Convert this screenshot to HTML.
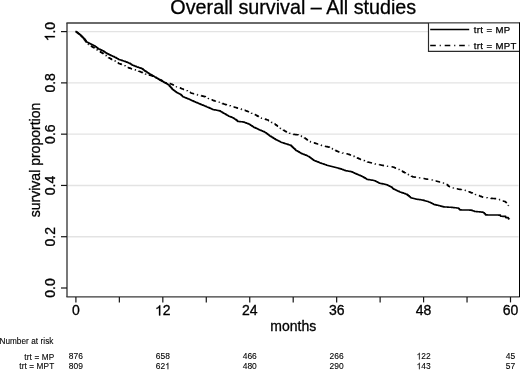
<!DOCTYPE html>
<html><head><meta charset="utf-8"><style>
html,body{margin:0;padding:0;background:#fff;overflow:hidden;}
svg{display:block;will-change:transform;font-family:"Liberation Sans",sans-serif;}
</style></head><body>
<svg width="520" height="370" viewBox="0 0 520 370">
<rect width="520" height="370" fill="#fff"/>
<line x1="68" y1="236.72" x2="518.5" y2="236.72" stroke="#e3e3e3" stroke-width="1.4"/>
<line x1="68" y1="185.44" x2="518.5" y2="185.44" stroke="#e3e3e3" stroke-width="1.4"/>
<line x1="68" y1="134.16" x2="518.5" y2="134.16" stroke="#e3e3e3" stroke-width="1.4"/>
<line x1="68" y1="82.88" x2="518.5" y2="82.88" stroke="#e3e3e3" stroke-width="1.4"/>
<line x1="68" y1="31.60" x2="518.5" y2="31.60" stroke="#e3e3e3" stroke-width="1.4"/>
<polyline points="75.40,31.50 76.40,31.50 76.40,32.23 77.40,32.23 77.40,32.96 78.40,32.96 78.40,33.70 79.40,33.70 79.40,34.43 79.50,34.43 79.50,34.50 80.40,34.50 80.40,35.40 81.40,35.40 81.40,36.40 82.40,36.40 82.40,37.40 83.40,37.40 83.40,38.40 83.50,38.40 83.50,38.50 84.40,38.50 84.40,39.63 85.40,39.63 85.40,40.89 86.20,40.89 86.20,41.90 86.40,41.90 86.40,42.19 87.40,42.19 87.40,43.61 87.60,43.61 87.60,43.90 88.40,43.90 88.40,44.44 89.40,44.44 89.40,45.12 90.40,45.12 90.40,45.79 91.40,45.79 91.40,46.47 91.60,46.47 91.60,46.60 92.40,46.60 92.40,47.10 93.40,47.10 93.40,47.73 94.40,47.73 94.40,48.36 95.40,48.36 95.40,48.99 96.40,48.99 96.40,49.62 97.00,49.62 97.00,50.00 97.40,50.00 97.40,50.25 98.40,50.25 98.40,50.88 99.40,50.88 99.40,51.51 100.40,51.51 100.40,52.14 101.40,52.14 101.40,52.77 102.40,52.77 102.40,53.40 103.40,53.40 103.40,54.14 104.40,54.14 104.40,54.88 105.40,54.88 105.40,55.62 106.40,55.62 106.40,56.36 107.40,56.36 107.40,57.10 107.80,57.10 107.80,57.40 108.40,57.40 108.40,57.73 109.40,57.73 109.40,58.29 110.40,58.29 110.40,58.84 111.40,58.84 111.40,59.40 112.40,59.40 112.40,59.96 113.20,59.96 113.20,60.40 113.40,60.40 113.40,60.51 114.40,60.51 114.40,61.09 115.40,61.09 115.40,61.66 116.40,61.66 116.40,62.24 117.40,62.24 117.40,62.81 118.40,62.81 118.40,63.39 118.60,63.39 118.60,63.50 119.40,63.50 119.40,63.80 120.40,63.80 120.40,64.17 121.40,64.17 121.40,64.54 122.40,64.54 122.40,64.91 123.40,64.91 123.40,65.28 124.00,65.28 124.00,65.50 124.40,65.50 124.40,65.78 125.40,65.78 125.40,66.49 126.40,66.49 126.40,67.20 127.40,67.20 127.40,67.53 128.40,67.53 128.40,67.85 129.40,67.85 129.40,68.17 130.40,68.17 130.40,68.50 131.40,68.50 131.40,68.83 132.40,68.83 132.40,69.17 133.40,69.17 133.40,69.50 134.40,69.50 134.40,69.83 135.40,69.83 135.40,70.17 136.40,70.17 136.40,70.50 137.40,70.50 137.40,70.83 138.40,70.83 138.40,71.17 138.50,71.17 138.50,71.20 139.40,71.20 139.40,71.56 140.40,71.56 140.40,71.95 141.40,71.95 141.40,72.35 142.40,72.35 142.40,72.75 143.40,72.75 143.40,73.15 144.40,73.15 144.40,73.54 145.30,73.54 145.30,73.90 145.40,73.90 145.40,73.93 146.40,73.93 146.40,74.24 147.40,74.24 147.40,74.56 148.40,74.56 148.40,74.87 149.40,74.87 149.40,75.19 150.40,75.19 150.40,75.50 151.40,75.50 151.40,75.81 152.00,75.81 152.00,76.00 152.40,76.00 152.40,76.20 153.40,76.20 153.40,76.69 154.40,76.69 154.40,77.19 155.40,77.19 155.40,77.68 156.40,77.68 156.40,78.17 157.40,78.17 157.40,78.67 158.40,78.67 158.40,79.16 159.40,79.16 159.40,79.65 160.10,79.65 160.10,80.00 160.40,80.00 160.40,80.15 161.40,80.15 161.40,80.65 162.40,80.65 162.40,81.15 163.40,81.15 163.40,81.65 164.40,81.65 164.40,82.15 165.40,82.15 165.40,82.65 165.50,82.65 165.50,82.70 166.40,82.70 166.40,82.91 167.40,82.91 167.40,83.15 168.40,83.15 168.40,83.39 169.40,83.39 169.40,83.62 170.40,83.62 170.40,83.86 171.00,83.86 171.00,84.00 171.40,84.00 171.40,84.21 172.40,84.21 172.40,84.73 173.40,84.73 173.40,85.24 174.40,85.24 174.40,85.76 175.40,85.76 175.40,86.28 176.40,86.28 176.40,86.80 177.40,86.80 177.40,87.17 178.40,87.17 178.40,87.54 179.40,87.54 179.40,87.91 180.40,87.91 180.40,88.28 181.40,88.28 181.40,88.65 181.80,88.65 181.80,88.80 182.40,88.80 182.40,89.05 183.40,89.05 183.40,89.47 184.40,89.47 184.40,89.88 185.40,89.88 185.40,90.30 186.40,90.30 186.40,90.80 187.40,90.80 187.40,91.30 188.40,91.30 188.40,91.80 189.40,91.80 189.40,92.30 190.40,92.30 190.40,92.80 190.80,92.80 190.80,93.00 191.40,93.00 191.40,93.18 192.40,93.18 192.40,93.47 193.40,93.47 193.40,93.76 194.40,93.76 194.40,94.06 195.40,94.06 195.40,94.35 196.40,94.35 196.40,94.65 197.40,94.65 197.40,94.94 197.60,94.94 197.60,95.00 198.40,95.00 198.40,95.19 199.40,95.19 199.40,95.43 200.40,95.43 200.40,95.67 201.40,95.67 201.40,95.91 202.40,95.91 202.40,96.15 203.40,96.15 203.40,96.39 204.30,96.39 204.30,96.60 204.40,96.60 204.40,96.65 205.40,96.65 205.40,97.10 206.40,97.10 206.40,97.56 207.40,97.56 207.40,98.02 208.40,98.02 208.40,98.47 209.40,98.47 209.40,98.93 210.40,98.93 210.40,99.39 211.40,99.39 211.40,99.84 212.40,99.84 212.40,100.30 213.40,100.30 213.40,100.63 214.40,100.63 214.40,100.97 215.40,100.97 215.40,101.30 216.40,101.30 216.40,101.63 217.40,101.63 217.40,101.97 218.40,101.97 218.40,102.30 219.40,102.30 219.40,102.63 220.40,102.63 220.40,102.97 220.50,102.97 220.50,103.00 221.40,103.00 221.40,103.30 222.40,103.30 222.40,103.63 223.40,103.63 223.40,103.97 224.40,103.97 224.40,104.30 225.40,104.30 225.40,104.63 226.40,104.63 226.40,104.97 227.40,104.97 227.40,105.30 228.40,105.30 228.40,105.63 228.60,105.63 228.60,105.70 229.40,105.70 229.40,105.91 230.40,105.91 230.40,106.18 231.40,106.18 231.40,106.44 232.40,106.44 232.40,106.71 233.40,106.71 233.40,106.98 234.40,106.98 234.40,107.24 235.00,107.24 235.00,107.40 235.40,107.40 235.40,107.52 236.40,107.52 236.40,107.83 237.40,107.83 237.40,108.14 238.40,108.14 238.40,108.45 239.40,108.45 239.40,108.76 240.40,108.76 240.40,109.07 241.40,109.07 241.40,109.38 242.40,109.38 242.40,109.68 243.10,109.68 243.10,109.90 243.40,109.90 243.40,110.01 244.40,110.01 244.40,110.38 245.40,110.38 245.40,110.75 246.40,110.75 246.40,111.12 247.40,111.12 247.40,111.49 248.40,111.49 248.40,111.86 248.50,111.86 248.50,111.90 249.40,111.90 249.40,112.31 250.40,112.31 250.40,112.77 251.40,112.77 251.40,113.22 252.40,113.22 252.40,113.68 253.40,113.68 253.40,114.13 254.40,114.13 254.40,114.59 255.30,114.59 255.30,115.00 255.40,115.00 255.40,115.06 256.40,115.06 256.40,115.61 257.40,115.61 257.40,116.17 258.40,116.17 258.40,116.72 259.40,116.72 259.40,117.28 260.40,117.28 260.40,117.83 260.70,117.83 260.70,118.00 261.40,118.00 261.40,118.21 262.40,118.21 262.40,118.51 263.40,118.51 263.40,118.81 264.40,118.81 264.40,119.10 265.40,119.10 265.40,119.40 266.40,119.40 266.40,119.70 267.40,119.70 267.40,120.00 268.40,120.00 268.40,120.59 269.40,120.59 269.40,121.18 270.40,121.18 270.40,121.76 271.40,121.76 271.40,122.35 272.40,122.35 272.40,122.94 273.40,122.94 273.40,123.53 274.20,123.53 274.20,124.00 274.40,124.00 274.40,124.14 275.40,124.14 275.40,124.85 276.40,124.85 276.40,125.55 277.40,125.55 277.40,126.26 278.40,126.26 278.40,126.96 279.40,126.96 279.40,127.67 280.40,127.67 280.40,128.38 281.00,128.38 281.00,128.80 281.40,128.80 281.40,129.05 282.40,129.05 282.40,129.68 283.40,129.68 283.40,130.31 284.40,130.31 284.40,130.94 285.40,130.94 285.40,131.57 286.40,131.57 286.40,132.20 287.40,132.20 287.40,132.57 288.40,132.57 288.40,132.94 289.40,132.94 289.40,133.31 290.40,133.31 290.40,133.68 291.40,133.68 291.40,134.05 291.80,134.05 291.80,134.20 292.40,134.20 292.40,134.26 293.40,134.26 293.40,134.37 294.40,134.37 294.40,134.47 295.40,134.47 295.40,134.58 296.40,134.58 296.40,134.68 297.40,134.68 297.40,134.79 298.40,134.79 298.40,134.89 298.50,134.89 298.50,134.90 299.40,134.90 299.40,135.35 300.40,135.35 300.40,135.85 301.40,135.85 301.40,136.35 302.40,136.35 302.40,136.85 303.40,136.85 303.40,137.35 303.90,137.35 303.90,137.60 304.40,137.60 304.40,137.97 305.40,137.97 305.40,138.71 306.40,138.71 306.40,139.45 307.40,139.45 307.40,140.19 308.40,140.19 308.40,140.93 309.30,140.93 309.30,141.60 309.40,141.60 309.40,141.63 310.40,141.63 310.40,141.92 311.40,141.92 311.40,142.22 312.40,142.22 312.40,142.51 313.40,142.51 313.40,142.81 314.40,142.81 314.40,143.10 315.40,143.10 315.40,143.39 316.10,143.39 316.10,143.60 316.40,143.60 316.40,143.70 317.40,143.70 317.40,144.05 318.40,144.05 318.40,144.39 319.40,144.39 319.40,144.73 320.40,144.73 320.40,145.08 321.40,145.08 321.40,145.42 322.40,145.42 322.40,145.76 322.80,145.76 322.80,145.90 323.40,145.90 323.40,146.02 324.40,146.02 324.40,146.23 325.40,146.23 325.40,146.43 326.40,146.43 326.40,146.63 327.40,146.63 327.40,146.84 328.20,146.84 328.20,147.00 328.40,147.00 328.40,147.10 329.40,147.10 329.40,147.60 330.40,147.60 330.40,148.10 331.40,148.10 331.40,148.60 332.40,148.60 332.40,149.10 333.40,149.10 333.40,149.60 334.40,149.60 334.40,150.10 335.00,150.10 335.00,150.40 335.40,150.40 335.40,150.60 336.40,150.60 336.40,151.08 337.40,151.08 337.40,151.57 338.40,151.57 338.40,152.06 339.10,152.06 339.10,152.40 339.40,152.40 339.40,152.45 340.40,152.45 340.40,152.63 341.40,152.63 341.40,152.80 342.40,152.80 342.40,152.98 343.10,152.98 343.10,153.10 343.40,153.10 343.40,153.17 344.40,153.17 344.40,153.39 345.40,153.39 345.40,153.61 346.40,153.61 346.40,153.83 347.40,153.83 347.40,154.05 348.10,154.05 348.10,154.20 348.40,154.20 348.40,154.33 349.40,154.33 349.40,154.75 350.40,154.75 350.40,155.17 351.40,155.17 351.40,155.59 352.40,155.59 352.40,156.00 353.40,156.00 353.40,156.42 354.40,156.42 354.40,156.84 355.40,156.84 355.40,157.26 356.20,157.26 356.20,157.60 356.40,157.60 356.40,157.69 357.40,157.69 357.40,158.13 358.40,158.13 358.40,158.58 359.40,158.58 359.40,159.02 360.40,159.02 360.40,159.47 361.40,159.47 361.40,159.91 361.60,159.91 361.60,160.00 362.40,160.00 362.40,160.27 363.40,160.27 363.40,160.61 364.40,160.61 364.40,160.95 365.40,160.95 365.40,161.29 366.40,161.29 366.40,161.62 367.40,161.62 367.40,161.96 368.40,161.96 368.40,162.30 369.40,162.30 369.40,162.55 370.40,162.55 370.40,162.81 371.40,162.81 371.40,163.06 372.40,163.06 372.40,163.31 373.40,163.31 373.40,163.57 374.40,163.57 374.40,163.82 375.10,163.82 375.10,164.00 375.40,164.00 375.40,164.06 376.40,164.06 376.40,164.24 377.40,164.24 377.40,164.43 378.40,164.43 378.40,164.61 379.40,164.61 379.40,164.80 380.40,164.80 380.40,164.98 380.50,164.98 380.50,165.00 381.40,165.00 381.40,165.18 382.40,165.18 382.40,165.38 383.40,165.38 383.40,165.58 384.40,165.58 384.40,165.78 385.40,165.78 385.40,165.98 386.00,165.98 386.00,166.10 386.40,166.10 386.40,166.15 387.40,166.15 387.40,166.29 388.40,166.29 388.40,166.42 389.40,166.42 389.40,166.56 390.40,166.56 390.40,166.69 391.40,166.69 391.40,166.83 392.40,166.83 392.40,166.96 392.70,166.96 392.70,167.00 393.40,167.00 393.40,167.30 394.40,167.30 394.40,167.72 395.40,167.72 395.40,168.15 396.40,168.15 396.40,168.58 397.40,168.58 397.40,169.00 398.10,169.00 398.10,169.30 398.40,169.30 398.40,169.46 399.40,169.46 399.40,170.00 400.40,170.00 400.40,170.54 401.40,170.54 401.40,171.08 402.40,171.08 402.40,171.62 403.40,171.62 403.40,172.15 404.40,172.15 404.40,172.69 404.60,172.69 404.60,172.80 405.40,172.80 405.40,173.20 406.40,173.20 406.40,173.71 407.40,173.71 407.40,174.22 408.40,174.22 408.40,174.72 409.40,174.72 409.40,175.23 410.40,175.23 410.40,175.74 411.40,175.74 411.40,176.24 412.40,176.24 412.40,176.75 412.70,176.75 412.70,176.90 413.40,176.90 413.40,176.99 414.40,176.99 414.40,177.11 415.40,177.11 415.40,177.23 416.40,177.23 416.40,177.36 417.40,177.36 417.40,177.48 418.40,177.48 418.40,177.60 419.20,177.60 419.20,177.70 419.40,177.70 419.40,177.74 420.40,177.74 420.40,177.94 421.40,177.94 421.40,178.14 422.40,178.14 422.40,178.34 423.40,178.34 423.40,178.54 424.40,178.54 424.40,178.74 425.40,178.74 425.40,178.94 425.70,178.94 425.70,179.00 426.40,179.00 426.40,179.12 427.40,179.12 427.40,179.29 428.40,179.29 428.40,179.46 429.40,179.46 429.40,179.63 430.40,179.63 430.40,179.80 431.40,179.80 431.40,179.96 432.20,179.96 432.20,180.10 432.40,180.10 432.40,180.15 433.40,180.15 433.40,180.42 434.40,180.42 434.40,180.68 435.40,180.68 435.40,180.95 436.40,180.95 436.40,181.22 437.40,181.22 437.40,181.48 438.40,181.48 438.40,181.75 438.60,181.75 438.60,181.80 439.40,181.80 439.40,182.00 440.40,182.00 440.40,182.24 441.40,182.24 441.40,182.49 442.40,182.49 442.40,182.74 443.40,182.74 443.40,182.98 444.40,182.98 444.40,183.23 445.10,183.23 445.10,183.40 445.40,183.40 445.40,183.66 446.40,183.66 446.40,184.54 447.40,184.54 447.40,185.42 448.40,185.42 448.40,186.30 449.40,186.30 449.40,186.74 450.40,186.74 450.40,187.18 451.40,187.18 451.40,187.62 451.80,187.62 451.80,187.80 452.40,187.80 452.40,187.93 453.40,187.93 453.40,188.13 454.40,188.13 454.40,188.34 455.40,188.34 455.40,188.55 456.40,188.55 456.40,188.76 457.40,188.76 457.40,188.97 458.40,188.97 458.40,189.18 458.50,189.18 458.50,189.20 459.40,189.20 459.40,189.37 460.40,189.37 460.40,189.56 461.40,189.56 461.40,189.75 462.40,189.75 462.40,189.95 463.40,189.95 463.40,190.14 464.40,190.14 464.40,190.33 465.30,190.33 465.30,190.50 465.40,190.50 465.40,190.54 466.40,190.54 466.40,190.93 467.40,190.93 467.40,191.32 468.40,191.32 468.40,191.71 469.40,191.71 469.40,192.09 470.40,192.09 470.40,192.48 470.70,192.48 470.70,192.60 471.40,192.60 471.40,192.88 472.40,192.88 472.40,193.29 473.40,193.29 473.40,193.69 474.40,193.69 474.40,194.09 475.40,194.09 475.40,194.49 476.40,194.49 476.40,194.90 477.40,194.90 477.40,195.30 478.40,195.30 478.40,195.67 479.40,195.67 479.40,196.04 480.40,196.04 480.40,196.41 481.40,196.41 481.40,196.78 482.40,196.78 482.40,197.15 482.80,197.15 482.80,197.30 483.40,197.30 483.40,197.38 484.40,197.38 484.40,197.51 485.40,197.51 485.40,197.65 486.40,197.65 486.40,197.78 487.40,197.78 487.40,197.92 488.40,197.92 488.40,198.05 489.40,198.05 489.40,198.19 490.40,198.19 490.40,198.32 491.00,198.32 491.00,198.40 491.40,198.40 491.40,198.42 492.40,198.42 492.40,198.48 493.40,198.48 493.40,198.53 494.40,198.53 494.40,198.59 495.40,198.59 495.40,198.64 496.40,198.64 496.40,198.70 497.40,198.70 497.40,198.99 498.40,198.99 498.40,199.27 499.20,199.27 499.20,199.50 499.40,199.50 499.40,199.60 500.40,199.60 500.40,200.10 501.40,200.10 501.40,200.60 502.00,200.60 502.00,200.90 502.40,200.90 502.40,201.00 503.40,201.00 503.40,201.24 504.40,201.24 504.40,201.48 504.50,201.48 504.50,201.50 505.40,201.50 505.40,202.10 506.00,202.10 506.00,202.50 506.40,202.50 506.40,202.90 507.00,202.90 507.00,203.50 507.40,203.50 507.40,204.30 507.50,204.30 507.50,204.50 508.40,204.50 508.40,205.49 508.50,205.49 508.50,205.60" fill="none" stroke="#000" stroke-width="1.6" stroke-dasharray="5.6 3.965 1.0 3.965" stroke-dashoffset="13.449" stroke-linejoin="round"/>
<polyline points="75.40,31.50 76.40,31.50 76.40,32.23 77.40,32.23 77.40,32.96 78.40,32.96 78.40,33.70 79.40,33.70 79.40,34.43 79.50,34.43 79.50,34.50 80.40,34.50 80.40,35.40 81.40,35.40 81.40,36.40 82.40,36.40 82.40,37.40 83.40,37.40 83.40,38.40 83.50,38.40 83.50,38.50 84.40,38.50 84.40,39.63 85.40,39.63 85.40,40.89 86.20,40.89 86.20,41.90 86.40,41.90 86.40,42.00 87.40,42.00 87.40,42.49 88.40,42.49 88.40,42.97 89.40,42.97 89.40,43.46 90.30,43.46 90.30,43.90 90.40,43.90 90.40,43.95 91.40,43.95 91.40,44.45 92.40,44.45 92.40,44.95 93.40,44.95 93.40,45.45 94.30,45.45 94.30,45.90 94.40,45.90 94.40,45.98 95.40,45.98 95.40,46.73 96.40,46.73 96.40,47.49 97.40,47.49 97.40,48.24 98.40,48.24 98.40,49.00 99.40,49.00 99.40,49.42 100.40,49.42 100.40,49.85 101.40,49.85 101.40,50.28 102.40,50.28 102.40,50.70 103.40,50.70 103.40,51.36 104.40,51.36 104.40,52.02 105.40,52.02 105.40,52.68 106.40,52.68 106.40,53.33 106.50,53.33 106.50,53.40 107.40,53.40 107.40,53.85 108.40,53.85 108.40,54.35 109.40,54.35 109.40,54.85 110.40,54.85 110.40,55.35 110.50,55.35 110.50,55.40 111.40,55.40 111.40,55.80 112.40,55.80 112.40,56.23 113.40,56.23 113.40,56.67 114.40,56.67 114.40,57.11 114.60,57.11 114.60,57.20 115.40,57.20 115.40,57.66 116.40,57.66 116.40,58.24 117.40,58.24 117.40,58.81 118.40,58.81 118.40,59.39 118.60,59.39 118.60,59.50 119.40,59.50 119.40,59.75 120.40,59.75 120.40,60.07 121.40,60.07 121.40,60.38 122.40,60.38 122.40,60.70 123.40,60.70 123.40,61.01 124.00,61.01 124.00,61.20 124.40,61.20 124.40,61.36 125.40,61.36 125.40,61.77 126.40,61.77 126.40,62.17 127.40,62.17 127.40,62.57 128.40,62.57 128.40,62.98 129.20,62.98 129.20,63.30 129.40,63.30 129.40,63.42 130.40,63.42 130.40,64.04 131.40,64.04 131.40,64.67 132.10,64.67 132.10,65.10 132.40,65.10 132.40,65.22 133.40,65.22 133.40,65.61 134.40,65.61 134.40,66.01 135.40,66.01 135.40,66.41 136.40,66.41 136.40,66.80 136.90,66.80 136.90,67.00 137.40,67.00 137.40,67.17 138.40,67.17 138.40,67.50 139.40,67.50 139.40,67.83 140.40,67.83 140.40,68.17 141.40,68.17 141.40,68.50 141.70,68.50 141.70,68.60 142.40,68.60 142.40,69.16 143.40,69.16 143.40,69.95 144.40,69.95 144.40,70.74 144.60,70.74 144.60,70.90 145.40,70.90 145.40,71.41 146.40,71.41 146.40,72.05 147.40,72.05 147.40,72.69 148.40,72.69 148.40,73.33 149.30,73.33 149.30,73.90 149.40,73.90 149.40,73.96 150.40,73.96 150.40,74.53 151.40,74.53 151.40,75.11 152.40,75.11 152.40,75.68 153.40,75.68 153.40,76.25 154.40,76.25 154.40,76.83 154.70,76.83 154.70,77.00 155.40,77.00 155.40,77.41 156.40,77.41 156.40,78.01 157.40,78.01 157.40,78.60 158.40,78.60 158.40,79.19 159.40,79.19 159.40,79.79 160.10,79.79 160.10,80.20 160.40,80.20 160.40,80.37 161.40,80.37 161.40,80.95 162.40,80.95 162.40,81.52 163.40,81.52 163.40,82.09 164.40,82.09 164.40,82.67 165.40,82.67 165.40,83.24 165.50,83.24 165.50,83.30 166.40,83.30 166.40,83.80 167.40,83.80 167.40,84.36 168.20,84.36 168.20,84.80 168.40,84.80 168.40,85.02 169.40,85.02 169.40,86.15 170.40,86.15 170.40,87.27 171.40,87.27 171.40,88.39 172.30,88.39 172.30,89.40 172.40,89.40 172.40,89.48 173.40,89.48 173.40,90.23 174.40,90.23 174.40,90.99 175.40,90.99 175.40,91.74 176.40,91.74 176.40,92.50 177.40,92.50 177.40,93.03 178.40,93.03 178.40,93.55 179.40,93.55 179.40,94.07 180.40,94.07 180.40,94.60 181.40,94.60 181.40,95.56 182.40,95.56 182.40,96.51 182.70,96.51 182.70,96.80 183.40,96.80 183.40,97.07 184.40,97.07 184.40,97.46 185.40,97.46 185.40,97.85 186.40,97.85 186.40,98.24 187.40,98.24 187.40,98.63 188.10,98.63 188.10,98.90 188.40,98.90 188.40,99.04 189.40,99.04 189.40,99.50 190.40,99.50 190.40,99.96 191.40,99.96 191.40,100.43 192.40,100.43 192.40,100.89 193.40,100.89 193.40,101.35 193.50,101.35 193.50,101.40 194.40,101.40 194.40,101.78 195.40,101.78 195.40,102.21 196.40,102.21 196.40,102.64 197.40,102.64 197.40,103.06 198.40,103.06 198.40,103.49 199.40,103.49 199.40,103.92 200.30,103.92 200.30,104.30 200.40,104.30 200.40,104.34 201.40,104.34 201.40,104.74 202.40,104.74 202.40,105.15 203.40,105.15 203.40,105.55 204.40,105.55 204.40,105.95 205.40,105.95 205.40,106.36 206.40,106.36 206.40,106.76 207.00,106.76 207.00,107.00 207.40,107.00 207.40,107.19 208.40,107.19 208.40,107.65 209.40,107.65 209.40,108.11 210.40,108.11 210.40,108.57 211.40,108.57 211.40,109.04 212.40,109.04 212.40,109.50 213.40,109.50 213.40,109.69 214.40,109.69 214.40,109.88 215.40,109.88 215.40,110.07 216.40,110.07 216.40,110.26 217.40,110.26 217.40,110.46 218.40,110.46 218.40,110.65 219.20,110.65 219.20,110.80 219.40,110.80 219.40,110.92 220.40,110.92 220.40,111.49 221.40,111.49 221.40,112.07 222.40,112.07 222.40,112.64 223.20,112.64 223.20,113.10 223.40,113.10 223.40,113.21 224.40,113.21 224.40,113.79 225.40,113.79 225.40,114.36 226.40,114.36 226.40,114.94 227.40,114.94 227.40,115.51 228.40,115.51 228.40,116.09 228.60,116.09 228.60,116.20 229.40,116.20 229.40,116.51 230.40,116.51 230.40,116.90 231.40,116.90 231.40,117.29 232.40,117.29 232.40,117.68 232.70,117.68 232.70,117.80 233.40,117.80 233.40,118.26 234.40,118.26 234.40,118.91 235.00,118.91 235.00,119.30 235.40,119.30 235.40,119.61 236.40,119.61 236.40,120.39 237.40,120.39 237.40,121.17 237.70,121.17 237.70,121.40 238.40,121.40 238.40,121.48 239.40,121.48 239.40,121.59 240.40,121.59 240.40,121.70 241.40,121.70 241.40,121.81 242.40,121.81 242.40,121.92 243.10,121.92 243.10,122.00 243.40,122.00 243.40,122.11 244.40,122.11 244.40,122.48 245.40,122.48 245.40,122.85 246.40,122.85 246.40,123.22 247.40,123.22 247.40,123.59 248.40,123.59 248.40,123.96 248.50,123.96 248.50,124.00 249.40,124.00 249.40,124.57 250.40,124.57 250.40,125.20 251.40,125.20 251.40,125.83 252.40,125.83 252.40,126.46 253.40,126.46 253.40,127.09 253.90,127.09 253.90,127.40 254.40,127.40 254.40,127.63 255.40,127.63 255.40,128.09 256.40,128.09 256.40,128.56 257.40,128.56 257.40,129.02 258.40,129.02 258.40,129.48 259.30,129.48 259.30,129.90 259.40,129.90 259.40,129.94 260.40,129.94 260.40,130.37 261.40,130.37 261.40,130.79 262.40,130.79 262.40,131.22 263.40,131.22 263.40,131.65 264.40,131.65 264.40,132.07 264.70,132.07 264.70,132.20 265.40,132.20 265.40,132.72 266.40,132.72 266.40,133.46 267.40,133.46 267.40,134.20 268.40,134.20 268.40,134.94 269.40,134.94 269.40,135.68 270.10,135.68 270.10,136.20 270.40,136.20 270.40,136.39 271.40,136.39 271.40,137.02 272.40,137.02 272.40,137.65 273.40,137.65 273.40,138.28 274.40,138.28 274.40,138.91 275.40,138.91 275.40,139.54 275.50,139.54 275.50,139.60 276.40,139.60 276.40,140.04 277.40,140.04 277.40,140.53 278.40,140.53 278.40,141.02 279.40,141.02 279.40,141.51 280.40,141.51 280.40,142.01 281.00,142.01 281.00,142.30 281.40,142.30 281.40,142.43 282.40,142.43 282.40,142.75 283.40,142.75 283.40,143.08 284.40,143.08 284.40,143.41 285.00,143.41 285.00,143.60 285.40,143.60 285.40,143.73 286.40,143.73 286.40,144.07 287.40,144.07 287.40,144.40 288.40,144.40 288.40,144.73 289.40,144.73 289.40,145.07 290.40,145.07 290.40,145.40 291.40,145.40 291.40,146.33 292.40,146.33 292.40,147.25 293.40,147.25 293.40,148.18 294.40,148.18 294.40,149.10 295.40,149.10 295.40,150.03 295.80,150.03 295.80,150.40 296.40,150.40 296.40,150.74 297.40,150.74 297.40,151.32 298.40,151.32 298.40,151.89 299.40,151.89 299.40,152.47 300.40,152.47 300.40,153.04 301.20,153.04 301.20,153.50 301.40,153.50 301.40,153.58 302.40,153.58 302.40,153.98 303.40,153.98 303.40,154.37 304.40,154.37 304.40,154.77 305.40,154.77 305.40,155.17 306.40,155.17 306.40,155.56 307.40,155.56 307.40,155.96 308.00,155.96 308.00,156.20 308.40,156.20 308.40,156.50 309.40,156.50 309.40,157.26 310.40,157.26 310.40,158.02 311.40,158.02 311.40,158.78 312.40,158.78 312.40,159.54 313.40,159.54 313.40,160.30 314.40,160.30 314.40,160.70 315.40,160.70 315.40,161.11 316.40,161.11 316.40,161.51 317.40,161.51 317.40,161.91 318.40,161.91 318.40,162.31 319.40,162.31 319.40,162.72 320.10,162.72 320.10,163.00 320.40,163.00 320.40,163.10 321.40,163.10 321.40,163.44 322.40,163.44 322.40,163.78 323.40,163.78 323.40,164.12 324.40,164.12 324.40,164.45 325.40,164.45 325.40,164.79 326.40,164.79 326.40,165.13 326.90,165.13 326.90,165.30 327.40,165.30 327.40,165.43 328.40,165.43 328.40,165.68 329.40,165.68 329.40,165.93 330.40,165.93 330.40,166.19 331.40,166.19 331.40,166.44 332.40,166.44 332.40,166.70 333.40,166.70 333.40,166.95 333.60,166.95 333.60,167.00 334.40,167.00 334.40,167.22 335.40,167.22 335.40,167.50 336.40,167.50 336.40,167.78 337.40,167.78 337.40,168.06 338.40,168.06 338.40,168.34 339.40,168.34 339.40,168.62 340.40,168.62 340.40,168.90 341.40,168.90 341.40,169.26 342.40,169.26 342.40,169.62 343.40,169.62 343.40,169.98 344.40,169.98 344.40,170.34 345.40,170.34 345.40,170.70 346.40,170.70 346.40,170.87 347.40,170.87 347.40,171.03 348.40,171.03 348.40,171.20 349.40,171.20 349.40,171.37 350.40,171.37 350.40,171.53 350.80,171.53 350.80,171.60 351.40,171.60 351.40,171.87 352.40,171.87 352.40,172.31 353.40,172.31 353.40,172.76 354.40,172.76 354.40,173.20 355.40,173.20 355.40,173.64 356.20,173.64 356.20,174.00 356.40,174.00 356.40,174.09 357.40,174.09 357.40,174.51 358.40,174.51 358.40,174.94 359.40,174.94 359.40,175.36 360.40,175.36 360.40,175.79 361.40,175.79 361.40,176.21 361.60,176.21 361.60,176.30 362.40,176.30 362.40,176.76 363.40,176.76 363.40,177.33 364.40,177.33 364.40,177.91 365.40,177.91 365.40,178.48 366.40,178.48 366.40,179.06 367.00,179.06 367.00,179.40 367.40,179.40 367.40,179.46 368.40,179.46 368.40,179.63 369.40,179.63 369.40,179.79 370.40,179.79 370.40,179.95 371.40,179.95 371.40,180.11 372.40,180.11 372.40,180.27 373.40,180.27 373.40,180.44 373.80,180.44 373.80,180.50 374.40,180.50 374.40,180.80 375.40,180.80 375.40,181.30 376.40,181.30 376.40,181.80 377.40,181.80 377.40,182.30 378.40,182.30 378.40,182.80 379.20,182.80 379.20,183.20 379.40,183.20 379.40,183.24 380.40,183.24 380.40,183.45 381.40,183.45 381.40,183.65 382.40,183.65 382.40,183.86 383.40,183.86 383.40,184.06 384.40,184.06 384.40,184.27 385.40,184.27 385.40,184.48 386.00,184.48 386.00,184.60 386.40,184.60 386.40,184.80 387.40,184.80 387.40,185.30 388.40,185.30 388.40,185.80 389.40,185.80 389.40,186.30 390.40,186.30 390.40,186.80 391.40,186.80 391.40,187.30 392.40,187.30 392.40,188.24 393.20,188.24 393.20,189.00 393.40,189.00 393.40,189.09 394.40,189.09 394.40,189.55 395.40,189.55 395.40,190.02 396.40,190.02 396.40,190.48 397.40,190.48 397.40,190.94 398.40,190.94 398.40,191.40 399.40,191.40 399.40,191.86 399.70,191.86 399.70,192.00 400.40,192.00 400.40,192.24 401.40,192.24 401.40,192.58 402.40,192.58 402.40,192.91 403.40,192.91 403.40,193.25 404.40,193.25 404.40,193.59 405.40,193.59 405.40,193.93 406.20,193.93 406.20,194.20 406.40,194.20 406.40,194.36 407.40,194.36 407.40,195.13 408.40,195.13 408.40,195.91 409.40,195.91 409.40,196.68 410.40,196.68 410.40,197.46 411.10,197.46 411.10,198.00 411.40,198.00 411.40,198.07 412.40,198.07 412.40,198.30 413.40,198.30 413.40,198.53 414.40,198.53 414.40,198.76 415.40,198.76 415.40,198.99 415.90,198.99 415.90,199.10 416.40,199.10 416.40,199.18 417.40,199.18 417.40,199.33 418.40,199.33 418.40,199.48 419.40,199.48 419.40,199.64 420.40,199.64 420.40,199.79 421.40,199.79 421.40,199.95 422.40,199.95 422.40,200.10 423.40,200.10 423.40,200.39 424.40,200.39 424.40,200.68 425.40,200.68 425.40,200.98 426.40,200.98 426.40,201.27 427.40,201.27 427.40,201.56 428.40,201.56 428.40,201.85 428.90,201.85 428.90,202.00 429.40,202.00 429.40,202.26 430.40,202.26 430.40,202.77 431.40,202.77 431.40,203.28 432.40,203.28 432.40,203.79 433.40,203.79 433.40,204.30 433.80,204.30 433.80,204.50 434.40,204.50 434.40,204.64 435.40,204.64 435.40,204.87 436.40,204.87 436.40,205.10 437.40,205.10 437.40,205.32 438.40,205.32 438.40,205.55 438.60,205.55 438.60,205.60 439.40,205.60 439.40,205.81 440.40,205.81 440.40,206.08 441.40,206.08 441.40,206.34 442.40,206.34 442.40,206.61 443.40,206.61 443.40,206.87 443.50,206.87 443.50,206.90 444.40,206.90 444.40,206.95 445.40,206.95 445.40,207.01 446.40,207.01 446.40,207.07 447.40,207.07 447.40,207.13 448.40,207.13 448.40,207.20 449.40,207.20 449.40,207.26 450.40,207.26 450.40,207.32 451.40,207.32 451.40,207.38 451.80,207.38 451.80,207.40 452.40,207.40 452.40,207.47 453.40,207.47 453.40,207.59 454.40,207.59 454.40,207.70 455.40,207.70 455.40,207.82 456.40,207.82 456.40,207.94 457.40,207.94 457.40,208.05 457.80,208.05 457.80,208.10 458.40,208.10 458.40,208.61 459.40,208.61 459.40,209.47 459.90,209.47 459.90,209.90 460.40,209.90 460.40,209.91 461.40,209.91 461.40,209.93 462.40,209.93 462.40,209.95 463.40,209.95 463.40,209.96 464.40,209.96 464.40,209.98 465.40,209.98 465.40,210.00 466.40,210.00 466.40,210.02 467.40,210.02 467.40,210.04 468.40,210.04 468.40,210.06 469.40,210.06 469.40,210.08 470.40,210.08 470.40,210.09 470.70,210.09 470.70,210.10 471.40,210.10 471.40,210.34 472.40,210.34 472.40,210.69 473.40,210.69 473.40,211.04 474.40,211.04 474.40,211.39 474.70,211.39 474.70,211.50 475.40,211.50 475.40,211.56 476.40,211.56 476.40,211.65 477.40,211.65 477.40,211.73 478.40,211.73 478.40,211.82 479.40,211.82 479.40,211.91 480.40,211.91 480.40,211.99 481.40,211.99 481.40,212.08 482.40,212.08 482.40,212.17 482.80,212.17 482.80,212.20 483.40,212.20 483.40,212.80 484.40,212.80 484.40,213.80 485.40,213.80 485.40,214.80 485.50,214.80 485.50,214.90 486.40,214.90 486.40,214.91 487.40,214.91 487.40,214.93 488.40,214.93 488.40,214.94 489.40,214.94 489.40,214.95 490.40,214.95 490.40,214.97 491.40,214.97 491.40,214.98 492.40,214.98 492.40,214.99 493.40,214.99 493.40,215.01 494.40,215.01 494.40,215.02 495.40,215.02 495.40,215.03 496.40,215.03 496.40,215.05 497.40,215.05 497.40,215.06 498.40,215.06 498.40,215.08 499.40,215.08 499.40,215.09 500.20,215.09 500.20,215.10 500.40,215.10 500.40,215.90 500.50,215.90 500.50,216.30 501.40,216.30 501.40,216.32 502.40,216.32 502.40,216.34 503.40,216.34 503.40,216.36 504.40,216.36 504.40,216.38 505.40,216.38 505.40,216.40 505.70,216.40 505.70,217.60 506.40,217.60 506.40,217.63 507.40,217.63 507.40,217.67 508.20,217.67 508.20,217.70 508.40,217.70 508.40,218.57 508.50,218.57 508.50,219.00 509.40,219.00 509.40,219.10" fill="none" stroke="#000" stroke-width="1.6" stroke-linejoin="round"/>
<line x1="67" y1="23" x2="67" y2="297" stroke="#383838" stroke-width="1.35"/>
<line x1="66.4" y1="23" x2="519.4" y2="23" stroke="#383838" stroke-width="1.35"/>
<line x1="66.4" y1="296.9" x2="519.4" y2="296.9" stroke="#383838" stroke-width="1.35"/>
<rect x="519" y="22.3" width="1" height="274.9" fill="#000"/>
<line x1="61" y1="288.00" x2="67" y2="288.00" stroke="#151515" stroke-width="1.2"/>
<g transform="translate(54.8 288.00) rotate(-90)"><text x="0" y="0" text-anchor="middle" font-size="14" stroke="#000" stroke-width="0.3">0.0</text></g>
<line x1="61" y1="236.72" x2="67" y2="236.72" stroke="#151515" stroke-width="1.2"/>
<g transform="translate(54.8 236.72) rotate(-90)"><text x="0" y="0" text-anchor="middle" font-size="14" stroke="#000" stroke-width="0.3">0.2</text></g>
<line x1="61" y1="185.44" x2="67" y2="185.44" stroke="#151515" stroke-width="1.2"/>
<g transform="translate(54.8 185.44) rotate(-90)"><text x="0" y="0" text-anchor="middle" font-size="14" stroke="#000" stroke-width="0.3">0.4</text></g>
<line x1="61" y1="134.16" x2="67" y2="134.16" stroke="#151515" stroke-width="1.2"/>
<g transform="translate(54.8 134.16) rotate(-90)"><text x="0" y="0" text-anchor="middle" font-size="14" stroke="#000" stroke-width="0.3">0.6</text></g>
<line x1="61" y1="82.88" x2="67" y2="82.88" stroke="#151515" stroke-width="1.2"/>
<g transform="translate(54.8 82.88) rotate(-90)"><text x="0" y="0" text-anchor="middle" font-size="14" stroke="#000" stroke-width="0.3">0.8</text></g>
<line x1="61" y1="31.60" x2="67" y2="31.60" stroke="#151515" stroke-width="1.2"/>
<g transform="translate(54.8 31.60) rotate(-90)"><text x="0" y="0" text-anchor="middle" font-size="14" stroke="#000" stroke-width="0.3"> .0</text><path transform="translate(-9.731 0) scale(0.006836 -0.006836)" d="M763 0H583V1147Q518 1085 412 1023Q307 961 223 930V1104Q374 1175 487 1276Q600 1377 647 1472H763Z" stroke="#000" stroke-width="43.9"/></g>
<line x1="75.90" y1="297" x2="75.90" y2="302.4" stroke="#151515" stroke-width="1.2"/>
<g transform="translate(75.90 315.4)"><text x="0" y="0" text-anchor="middle" font-size="14" stroke="#000" stroke-width="0.3">0</text></g>
<line x1="119.36" y1="297" x2="119.36" y2="302.4" stroke="#151515" stroke-width="1.2"/>
<line x1="162.82" y1="297" x2="162.82" y2="302.4" stroke="#151515" stroke-width="1.2"/>
<g transform="translate(162.82 315.4)"><text x="0" y="0" text-anchor="middle" font-size="14" stroke="#000" stroke-width="0.3"> 2</text><path transform="translate(-7.786 0) scale(0.006836 -0.006836)" d="M763 0H583V1147Q518 1085 412 1023Q307 961 223 930V1104Q374 1175 487 1276Q600 1377 647 1472H763Z" stroke="#000" stroke-width="43.9"/></g>
<line x1="206.28" y1="297" x2="206.28" y2="302.4" stroke="#151515" stroke-width="1.2"/>
<line x1="249.74" y1="297" x2="249.74" y2="302.4" stroke="#151515" stroke-width="1.2"/>
<g transform="translate(249.74 315.4)"><text x="0" y="0" text-anchor="middle" font-size="14" stroke="#000" stroke-width="0.3">24</text></g>
<line x1="293.20" y1="297" x2="293.20" y2="302.4" stroke="#151515" stroke-width="1.2"/>
<line x1="336.66" y1="297" x2="336.66" y2="302.4" stroke="#151515" stroke-width="1.2"/>
<g transform="translate(336.66 315.4)"><text x="0" y="0" text-anchor="middle" font-size="14" stroke="#000" stroke-width="0.3">36</text></g>
<line x1="380.12" y1="297" x2="380.12" y2="302.4" stroke="#151515" stroke-width="1.2"/>
<line x1="423.58" y1="297" x2="423.58" y2="302.4" stroke="#151515" stroke-width="1.2"/>
<g transform="translate(423.58 315.4)"><text x="0" y="0" text-anchor="middle" font-size="14" stroke="#000" stroke-width="0.3">48</text></g>
<line x1="467.04" y1="297" x2="467.04" y2="302.4" stroke="#151515" stroke-width="1.2"/>
<line x1="510.50" y1="297" x2="510.50" y2="302.4" stroke="#151515" stroke-width="1.2"/>
<g transform="translate(510.50 315.4)"><text x="0" y="0" text-anchor="middle" font-size="14" stroke="#000" stroke-width="0.3">60</text></g>
<text x="293.3" y="330.9" text-anchor="middle" font-size="14" stroke="#000" stroke-width="0.3">months</text>
<text transform="translate(40.3 160) rotate(-90)" text-anchor="middle" font-size="14" stroke="#000" stroke-width="0.3">survival proportion</text>
<text transform="translate(293.3 14.4) scale(0.974 1)" text-anchor="middle" font-size="20.3" stroke="#000" stroke-width="0.3">Overall survival – All studies</text>
<rect x="428.5" y="23.6" width="90.5" height="27.7" fill="#fff"/><path d="M519 51.3 H428.5 V23" fill="none" stroke="#2a2a2a" stroke-width="1.15"/>
<line x1="430.2" y1="29.5" x2="469.2" y2="29.5" stroke="#000" stroke-width="1.35"/>
<line x1="430.2" y1="45.5" x2="469.2" y2="45.5" stroke="#000" stroke-width="1.35" stroke-dasharray="5.6 3.9 1.1 3.9"/>
<text x="473.7" y="33.2" font-size="9.6" letter-spacing="0.38" stroke="#000" stroke-width="0.25">trt = MP</text>
<text x="473.7" y="48.8" font-size="9.6" letter-spacing="0.38" stroke="#000" stroke-width="0.25">trt = MPT</text>
<text x="-0.6" y="343.8" font-size="8.2" letter-spacing="0.06" stroke="#000" stroke-width="0.1">Number at risk</text>
<text x="54.3" y="359.9" text-anchor="end" font-size="8.2" letter-spacing="0.13" stroke="#000" stroke-width="0.1">trt = MP</text>
<text x="54.3" y="369.4" text-anchor="end" font-size="8.2" letter-spacing="0.13" stroke="#000" stroke-width="0.1">trt = MPT</text>
<g transform="translate(75.90 359.4) scale(0.93 1)"><text x="0" y="0" text-anchor="middle" font-size="9.1" stroke="#000" stroke-width="0.1">876</text></g>
<g transform="translate(75.90 369.3) scale(0.93 1)"><text x="0" y="0" text-anchor="middle" font-size="9.1" stroke="#000" stroke-width="0.1">809</text></g>
<g transform="translate(162.82 359.4) scale(0.93 1)"><text x="0" y="0" text-anchor="middle" font-size="9.1" stroke="#000" stroke-width="0.1">658</text></g>
<g transform="translate(162.82 369.3) scale(0.93 1)"><text x="0" y="0" text-anchor="middle" font-size="9.1" stroke="#000" stroke-width="0.1">62 </text><path transform="translate(2.530 0) scale(0.004443 -0.004443)" d="M763 0H583V1147Q518 1085 412 1023Q307 961 223 930V1104Q374 1175 487 1276Q600 1377 647 1472H763Z" stroke="#000" stroke-width="22.5"/></g>
<g transform="translate(249.74 359.4) scale(0.93 1)"><text x="0" y="0" text-anchor="middle" font-size="9.1" stroke="#000" stroke-width="0.1">466</text></g>
<g transform="translate(249.74 369.3) scale(0.93 1)"><text x="0" y="0" text-anchor="middle" font-size="9.1" stroke="#000" stroke-width="0.1">480</text></g>
<g transform="translate(336.66 359.4) scale(0.93 1)"><text x="0" y="0" text-anchor="middle" font-size="9.1" stroke="#000" stroke-width="0.1">266</text></g>
<g transform="translate(336.66 369.3) scale(0.93 1)"><text x="0" y="0" text-anchor="middle" font-size="9.1" stroke="#000" stroke-width="0.1">290</text></g>
<g transform="translate(423.58 359.4) scale(0.93 1)"><text x="0" y="0" text-anchor="middle" font-size="9.1" stroke="#000" stroke-width="0.1"> 22</text><path transform="translate(-7.591 0) scale(0.004443 -0.004443)" d="M763 0H583V1147Q518 1085 412 1023Q307 961 223 930V1104Q374 1175 487 1276Q600 1377 647 1472H763Z" stroke="#000" stroke-width="22.5"/></g>
<g transform="translate(423.58 369.3) scale(0.93 1)"><text x="0" y="0" text-anchor="middle" font-size="9.1" stroke="#000" stroke-width="0.1"> 43</text><path transform="translate(-7.591 0) scale(0.004443 -0.004443)" d="M763 0H583V1147Q518 1085 412 1023Q307 961 223 930V1104Q374 1175 487 1276Q600 1377 647 1472H763Z" stroke="#000" stroke-width="22.5"/></g>
<g transform="translate(510.50 359.4) scale(0.93 1)"><text x="0" y="0" text-anchor="middle" font-size="9.1" stroke="#000" stroke-width="0.1">45</text></g>
<g transform="translate(510.50 369.3) scale(0.93 1)"><text x="0" y="0" text-anchor="middle" font-size="9.1" stroke="#000" stroke-width="0.1">57</text></g>
</svg>
</body></html>
